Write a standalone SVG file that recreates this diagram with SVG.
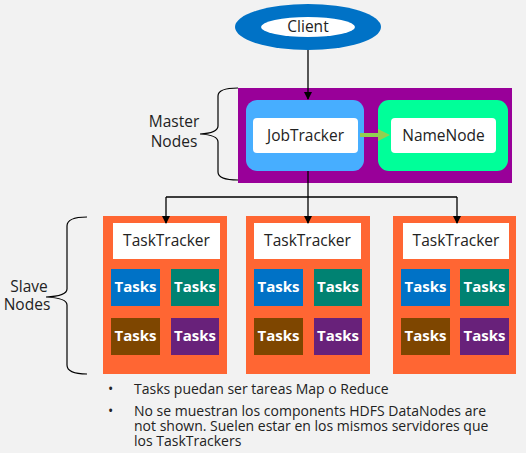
<svg xmlns="http://www.w3.org/2000/svg" width="526" height="453" viewBox="0 0 526 453">
<defs>
<style>
.t{font-family:"Open Sans","Noto Sans","Liberation Sans",sans-serif;fill:#222;text-anchor:middle}
.lbl{font-size:15.5px}
.tk{font-family:"Open Sans","Noto Sans","Liberation Sans",sans-serif;fill:#fff;font-weight:bold;font-size:15px;text-anchor:middle}
.orange{fill:#FF6633}
.w{fill:#fff}
.b{fill:#0072C6}.g{fill:#008272}.br{fill:#7E4600}.p{fill:#68217A}
.con{stroke:#000;stroke-width:1.3;fill:none}
.brace{stroke:#000;stroke-width:1.2;fill:none}
.note{font-family:"Open Sans","Noto Sans","Liberation Sans",sans-serif;fill:#222;font-size:14px}
</style>
<marker id="ah" markerWidth="8" markerHeight="8" refX="7" refY="4" orient="auto" markerUnits="userSpaceOnUse">
<path d="M0,0 L8,4 L0,8 Z" fill="#000"/>
</marker>
</defs>
<rect width="526" height="453" fill="#F2F2F2"/>

<g id="master-brace">
<path class="brace" d="M238,88 Q218,88 218,96 L218,126 Q218,133 200,134 Q218,135 218,142 L218,172 Q218,180 238,180"/>
<text class="t lbl" x="174" y="127">Master</text>
<text class="t lbl" x="174" y="147">Nodes</text>
</g>

<g id="slave-brace">
<path class="brace" d="M87,217 Q67,217 67,226 L67,289 Q67,296 46,297 Q67,298 67,305 L67,365 Q67,374 87,374"/>
<text class="t lbl" x="29" y="292">Slave</text>
<text class="t lbl" x="27" y="310">Nodes</text>
</g>

<g id="client">
<ellipse cx="308" cy="27" rx="73" ry="23" fill="#0072C6"/>
<ellipse cx="308" cy="27" rx="47" ry="10" fill="#fff"/>
<text class="t lbl" x="308" y="32">Client</text>
</g>

<g id="master-nodes">
<rect x="238" y="88" width="274" height="95" fill="#990099"/>
</g>

<g id="jobtracker">
<rect x="246" y="100" width="118" height="71" rx="11" fill="#47AEFF"/>
<rect x="253" y="118" width="105" height="35" rx="4" class="w"/>
<text class="t lbl" x="305.5" y="141">JobTracker</text>
</g>

<g id="namenode">
<rect x="378" y="100" width="130" height="71" rx="11" fill="#00FF99"/>
<rect x="391" y="118" width="105" height="35" rx="4" class="w"/>
<text class="t lbl" x="443.5" y="141">NameNode</text>
</g>

<g id="slave1">
<rect x="103" y="216" width="124" height="158" class="orange"/>
<rect x="113" y="223" width="107" height="36" class="w"/>
<text class="t lbl" x="166.5" y="246">TaskTracker</text>
<rect x="111" y="269" width="49" height="37" class="b"/>
<rect x="171" y="269" width="48" height="37" class="g"/>
<rect x="111" y="318" width="49" height="37" class="br"/>
<rect x="171" y="318" width="48" height="37" class="p"/>
<text class="tk" x="135.5" y="292">Tasks</text>
<text class="tk" x="195" y="292">Tasks</text>
<text class="tk" x="135.5" y="341">Tasks</text>
<text class="tk" x="195" y="341">Tasks</text>
</g>

<g id="slave2">
<rect x="246" y="216" width="124" height="158" class="orange"/>
<rect x="254" y="223" width="107" height="36" class="w"/>
<text class="t lbl" x="307.5" y="246">TaskTracker</text>
<rect x="254" y="269" width="49" height="37" class="b"/>
<rect x="314" y="269" width="48" height="37" class="g"/>
<rect x="254" y="318" width="49" height="37" class="br"/>
<rect x="314" y="318" width="48" height="37" class="p"/>
<text class="tk" x="278.5" y="292">Tasks</text>
<text class="tk" x="338" y="292">Tasks</text>
<text class="tk" x="278.5" y="341">Tasks</text>
<text class="tk" x="338" y="341">Tasks</text>
</g>

<g id="slave3">
<rect x="393" y="216" width="123" height="158" class="orange"/>
<rect x="403" y="223" width="106" height="36" class="w"/>
<text class="t lbl" x="456" y="246">TaskTracker</text>
<rect x="401" y="269" width="49" height="37" class="b"/>
<rect x="460" y="269" width="49" height="37" class="g"/>
<rect x="401" y="318" width="49" height="37" class="br"/>
<rect x="460" y="318" width="49" height="37" class="p"/>
<text class="tk" x="425.5" y="292">Tasks</text>
<text class="tk" x="484.5" y="292">Tasks</text>
<text class="tk" x="425.5" y="341">Tasks</text>
<text class="tk" x="484.5" y="341">Tasks</text>
</g>

<g id="connectors">
<line class="con" x1="308" y1="50" x2="308" y2="99" marker-end="url(#ah)"/>
<polyline class="con" points="308,171 308,197"/>
<polyline class="con" points="166,197 457,197"/>
<line class="con" x1="166" y1="197" x2="166" y2="223" marker-end="url(#ah)"/>
<line class="con" x1="308" y1="197" x2="308" y2="223" marker-end="url(#ah)"/>
<line class="con" x1="457" y1="197" x2="457" y2="223" marker-end="url(#ah)"/>
<path d="M360,133 L378,133 L378,129 L390,135 L378,141 L378,137 L360,137 Z" fill="#92D050"/>
</g>

<g id="notes">
<text class="note" x="108" y="394">•</text>
<text class="note" x="134" y="394">Tasks puedan ser tareas Map o Reduce</text>
<text class="note" x="108" y="416">•</text>
<text class="note" x="134" y="416">No se muestran los components HDFS DataNodes are</text>
<text class="note" x="134" y="431">not shown. Suelen estar en los mismos servidores que</text>
<text class="note" x="134" y="446">los TaskTrackers</text>
</g>
</svg>
